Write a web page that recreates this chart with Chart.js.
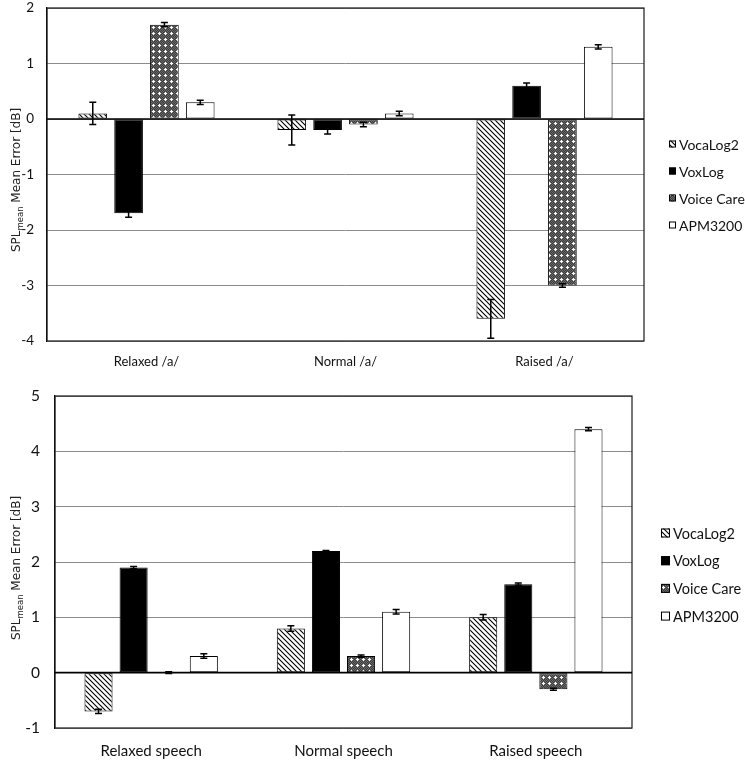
<!DOCTYPE html>
<html>
<head>
<meta charset="utf-8">
<script src="https://cdn.jsdelivr.net/npm/chart.js@4.4.1/dist/chart.umd.min.js"></script>
<style>
    html, body { margin: 0; padding: 0; background: #ffffff; }
    .wrap { position: relative; width: 745px; height: 760px; }
    canvas { position: absolute; left: 0; }
</style>
</head>
<body>
<div class="wrap">
    <canvas id="vowelChart" width="745" height="380" style="top:0"></canvas>
    <canvas id="speechChart" width="745" height="380" style="top:380px"></canvas>
</div>
<script>
// Data
const seriesNames = ['VocaLog2', 'VoxLog', 'Voice Care', 'APM3200'];

const vowelCategories = ['Relaxed /a/', 'Normal /a/', 'Raised /a/'];
const vowelVocaLog2 = [0.1, -0.2, -3.6];
const vowelVoxLog = [-1.7, -0.2, 0.6];
const vowelVoiceCare = [1.7, -0.1, -3.0];
const vowelApm3200 = [0.3, 0.1, 1.3];
const vowelErrVocaLog2 = [0.2, 0.27, 0.35];
const vowelErrVoxLog = [0.07, 0.07, 0.05];
const vowelErrVoiceCare = [0.04, 0.04, 0.03];
const vowelErrApm3200 = [0.04, 0.04, 0.04];

const speechCategories = ['Relaxed speech', 'Normal speech', 'Raised speech'];
const speechVocaLog2 = [-0.7, 0.8, 1.0];
const speechVoxLog = [1.9, 2.2, 1.6];
const speechVoiceCare = [0.0, 0.3, -0.3];
const speechApm3200 = [0.3, 1.1, 4.4];
const speechErrVocaLog2 = [0.04, 0.05, 0.05];
const speechErrVoxLog = [0.02, 0.01, 0.02];
const speechErrVoiceCare = [0.015, 0.02, 0.02];
const speechErrApm3200 = [0.04, 0.04, 0.03];

const vowelRange = [-4, 2];
const speechRange = [-1, 5];

// Fill patterns
function hatchPattern() {
    const c = document.createElement('canvas');
    c.width = 5; c.height = 5;
    const g = c.getContext('2d');
    g.fillStyle = '#ffffff';
    g.fillRect(0, 0, 5, 5);
    g.strokeStyle = '#000000';
    g.lineWidth = 1.1;
    g.beginPath();
    g.moveTo(-1, -1); g.lineTo(6, 6);
    g.moveTo(-1, 4); g.lineTo(1, 6);
    g.moveTo(4, -1); g.lineTo(6, 1);
    g.stroke();
    return g.createPattern(c, 'repeat');
}

function dottedPattern() {
    const c = document.createElement('canvas');
    c.width = 6; c.height = 6;
    const g = c.getContext('2d');
    g.fillStyle = '#3c3c3c';
    g.fillRect(0, 0, 6, 6);
    g.fillStyle = '#6a6a6a';
    for (let i = 0; i < 6; i++) {
        for (let j = 0; j < 6; j++) {
            if ((i + j) % 2 === 0) g.fillRect(i, j, 1, 1);
        }
    }
    g.fillStyle = '#ffffff';
    g.fillRect(2, 3, 3, 1);
    g.fillRect(3, 2, 1, 3);
    return g.createPattern(c, 'repeat');
}

const seriesFills = [hatchPattern(), '#000000', dottedPattern(), '#ffffff'];

// Error bars, drawn through the y scale
const errorBarPlugin = {
    id: 'errorBars',
    afterDatasetsDraw(chart) {
        const ctx = chart.ctx;
        const yScale = chart.scales.y;
        ctx.save();
        ctx.strokeStyle = '#000000';
        ctx.lineWidth = 1.5;
        chart.data.datasets.forEach((ds, i) => {
            const meta = chart.getDatasetMeta(i);
            meta.data.forEach((bar, j) => {
                const v = ds.data[j];
                const e = ds.errors[j];
                const yTop = yScale.getPixelForValue(v + e);
                const yBot = yScale.getPixelForValue(v - e);
                ctx.beginPath();
                ctx.moveTo(bar.x, yTop); ctx.lineTo(bar.x, yBot);
                ctx.moveTo(bar.x - 3.5, yTop); ctx.lineTo(bar.x + 3.5, yTop);
                ctx.moveTo(bar.x - 3.5, yBot); ctx.lineTo(bar.x + 3.5, yBot);
                ctx.stroke();
            });
        });
        ctx.restore();
    }
};

// Plot frame, axis title with subscript, and side legend
const framePlugin = {
    id: 'frame',
    afterDraw(chart, args, opts) {
        const ctx = chart.ctx;
        const a = chart.chartArea;
        ctx.save();
        ctx.strokeStyle = '#1a1a1a';
        ctx.lineWidth = 1.2;
        ctx.strokeRect(a.left, a.top, a.right - a.left, a.bottom - a.top);

        // zero line on top
        const y0 = chart.scales.y.getPixelForValue(0);
        ctx.lineWidth = 1.6;
        ctx.strokeStyle = '#000000';
        ctx.beginPath();
        ctx.moveTo(a.left, y0); ctx.lineTo(a.right, y0);
        ctx.stroke();

        // y axis title
        ctx.translate(opts.titleX, opts.titleY);
        ctx.rotate(-Math.PI / 2);
        ctx.fillStyle = '#222222';
        ctx.textBaseline = 'alphabetic';
        const big = '12px "DejaVu Sans"';
        const small = '8.5px "DejaVu Sans"';
        ctx.font = big;
        const w1 = ctx.measureText('SPL').width;
        const w3 = ctx.measureText(' Mean Error [dB]').width;
        ctx.font = small;
        const w2 = ctx.measureText('mean').width;
        let x = -(w1 + w2 + w3) / 2;
        ctx.font = big;
        ctx.fillText('SPL', x, 5);
        x += w1;
        ctx.font = small;
        ctx.fillText('mean', x, 8);
        x += w2;
        ctx.font = big;
        ctx.fillText(' Mean Error [dB]', x, 5);
        ctx.setTransform(1, 0, 0, 1, 0, 0);

        // legend
        ctx.font = opts.legendFont + 'px Lato';
        ctx.textBaseline = 'middle';
        const b = opts.legendBox;
        chart.data.datasets.forEach((ds, i) => {
            const ly = opts.legendY + i * opts.legendStep;
            ctx.fillStyle = ds.backgroundColor;
            ctx.fillRect(opts.legendX, ly - b / 2, b, b);
            ctx.strokeStyle = '#000000';
            ctx.lineWidth = 1;
            ctx.strokeRect(opts.legendX + 0.5, ly - b / 2 + 0.5, b - 1, b - 1);
            ctx.fillStyle = '#111111';
            ctx.fillText(ds.label, opts.legendX + b + 3, ly + 1);
        });
        ctx.restore();
    }
};

function buildChart(canvasId, categories, series, errors, range, layout) {
    const datasets = series.map((values, i) => ({
        label: seriesNames[i],
        data: values,
        errors: errors[i],
        backgroundColor: seriesFills[i],
        borderColor: '#000000',
        borderWidth: 1,
        borderSkipped: false,
        barPercentage: 0.8,
        categoryPercentage: layout.catPct
    }));

    return new Chart(document.getElementById(canvasId), {
        type: 'bar',
        data: { labels: categories, datasets: datasets },
        options: {
            responsive: false,
            animation: false,
            layout: {
                padding: { top: layout.top, right: layout.right, left: 0, bottom: 0 }
            },
            plugins: {
                legend: { display: false },
                tooltip: { enabled: false },
                frame: {
                    titleX: 15,
                    titleY: layout.titleY,
                    legendX: layout.legendX,
                    legendY: layout.legendY,
                    legendStep: layout.legendStep,
                    legendFont: layout.legendFont,
                    legendBox: layout.legendBox
                }
            },
            scales: {
                x: {
                    grid: { display: false },
                    border: { display: false },
                    ticks: {
                        color: '#111111',
                        font: { family: 'Lato', size: layout.xFont },
                        padding: layout.xPad
                    },
                    afterFit(scale) {
                        scale.height = layout.xHeight;
                        scale.paddingLeft = 0;
                        scale.paddingRight = 0;
                    }
                },
                y: {
                    min: range[0],
                    max: range[1],
                    ticks: {
                        stepSize: 1,
                        color: '#111111',
                        font: { family: 'Lato', size: layout.yFont },
                        padding: layout.yPad
                    },
                    grid: {
                        drawTicks: false,
                        color: '#8c8c8c',
                        lineWidth: 1
                    },
                    border: { display: true, color: '#000000', width: 1.2 },
                    afterFit(scale) {
                        scale.width = layout.yWidth;
                        scale.paddingTop = 0;
                        scale.paddingBottom = 0;
                    }
                }
            }
        },
        plugins: [errorBarPlugin, framePlugin]
    });
}

buildChart('vowelChart', vowelCategories,
    [vowelVocaLog2, vowelVoxLog, vowelVoiceCare, vowelApm3200],
    [vowelErrVocaLog2, vowelErrVoxLog, vowelErrVoiceCare, vowelErrApm3200],
    vowelRange,
    { top: 8, right: 101, yWidth: 47, xHeight: 39, xPad: 5, yPad: 13, catPct: 0.72,
      xFont: 13, yFont: 13.5, legendFont: 14, legendBox: 7,
      titleY: 180, legendX: 669, legendY: 144, legendStep: 27 });

buildChart('speechChart', speechCategories,
    [speechVocaLog2, speechVoxLog, speechVoiceCare, speechApm3200],
    [speechErrVocaLog2, speechErrVoxLog, speechErrVoiceCare, speechErrApm3200],
    speechRange,
    { top: 16, right: 113, yWidth: 55, xHeight: 32, xPad: 6, yPad: 15, catPct: 0.73,
      xFont: 15, yFont: 15.5, legendFont: 14.5, legendBox: 9,
      titleY: 188, legendX: 661, legendY: 153, legendStep: 27.7 });
</script>
</body>
</html>
